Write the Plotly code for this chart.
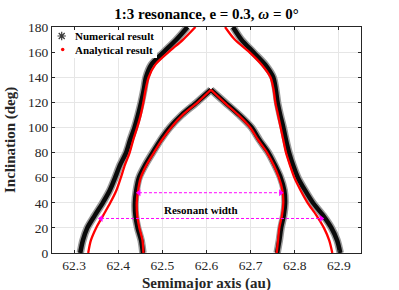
import plotly.graph_objects as go

# Inclination grid (deg)
inc_outer = [0, 10, 20, 30, 40, 50, 60, 70, 80, 90, 100, 110, 120, 130, 140, 150, 160, 170, 180]
inc_inner = [0, 10, 20, 30, 40, 50, 60, 70, 80, 90, 100, 110, 120, 130]

# Numerical result (semimajor axis, au)
num_left_outer = [62.314, 62.320, 62.330, 62.347, 62.365, 62.381, 62.393, 62.404, 62.418, 62.427,
                  62.437, 62.445, 62.452, 62.458, 62.463, 62.475, 62.503, 62.532, 62.557]
num_left_inner = [62.456, 62.452, 62.444, 62.439, 62.438, 62.441, 62.447, 62.461, 62.478, 62.496,
                  62.517, 62.544, 62.578, 62.610]
num_right_inner = [62.760, 62.765, 62.769, 62.775, 62.778, 62.776, 62.768, 62.755, 62.740, 62.720,
                   62.702, 62.674, 62.642, 62.610]
num_right_outer = [62.903, 62.896, 62.883, 62.864, 62.841, 62.823, 62.807, 62.796, 62.787, 62.780,
                   62.774, 62.767, 62.761, 62.757, 62.751, 62.733, 62.706, 62.679, 62.660]

# Analytical result
ana_left_outer = [62.332, 62.338, 62.350, 62.366, 62.382, 62.396, 62.406, 62.415, 62.426, 62.434,
                  62.443, 62.451, 62.457, 62.462, 62.469, 62.484, 62.514, 62.547, 62.575]
ana_left_inner = [62.457, 62.455, 62.448, 62.443, 62.442, 62.445, 62.451, 62.464, 62.481, 62.499,
                  62.520, 62.546, 62.580, 62.610]
ana_right_inner = [62.759, 62.762, 62.765, 62.771, 62.774, 62.772, 62.764, 62.752, 62.737, 62.717,
                   62.699, 62.672, 62.640, 62.610]
ana_right_outer = [62.885, 62.878, 62.866, 62.849, 62.829, 62.813, 62.799, 62.789, 62.780, 62.774,
                   62.768, 62.762, 62.756, 62.752, 62.745, 62.725, 62.697, 62.664, 62.642]

# Resonant width arrows: [a_left, a_right] at inclination
arrow1_a = [62.447, 62.768]
arrow1_i = [48, 48]
arrow2_a = [62.361, 62.860]
arrow2_i = [27.5, 27.5]
label_text = "Resonant width"
label_pos = (62.587, 34)

x_ticks = [62.3, 62.4, 62.5, 62.6, 62.7, 62.8, 62.9]
y_ticks = [0, 20, 40, 60, 80, 100, 120, 140, 160, 180]

legend_names = ["Numerical result", "Analytical result"]

SERIF = "Liberation Serif, Times New Roman, serif"

# plot area geometry (px)
W, H = 399, 290
L, R, T, B = 52, 38, 27, 37
PW, PH = W - L - R, H - T - B


def px_x(px):
    return (px - L) / PW


def px_y(py):
    return (H - B - py) / PH


fig = go.Figure()

num_curves = [
    (num_left_outer, inc_outer),
    (num_left_inner, inc_inner),
    (num_right_inner, inc_inner),
    (num_right_outer, inc_outer),
]
ana_curves = [
    (ana_left_outer, inc_outer),
    (ana_left_inner, inc_inner),
    (ana_right_inner, inc_inner),
    (ana_right_outer, inc_outer),
]

# numerical: gray halo + black core
for a, i in num_curves:
    fig.add_trace(go.Scatter(x=a, y=i, mode="lines",
                             line=dict(color="#9a9a9a", width=7.5, shape="spline", smoothing=0.8),
                             showlegend=False, hoverinfo="skip"))
for a, i in num_curves:
    fig.add_trace(go.Scatter(x=a, y=i, mode="lines",
                             line=dict(color="#0a0a0a", width=4.5, shape="spline", smoothing=0.8),
                             showlegend=False, hoverinfo="skip"))
for a, i in ana_curves:
    fig.add_trace(go.Scatter(x=a, y=i, mode="lines",
                             line=dict(color="#ff0000", width=2.3, shape="spline", smoothing=0.8),
                             showlegend=False, hoverinfo="skip"))

# arrows
for xa, ya in [(arrow1_a, arrow1_i), (arrow2_a, arrow2_i)]:
    fig.add_trace(go.Scatter(x=xa, y=ya, mode="lines+markers",
                             line=dict(color="#ff00ff", width=1, dash="3px,2px"),
                             marker=dict(symbol=["triangle-left", "triangle-right"], size=6, color="#ff00ff"),
                             showlegend=False, hoverinfo="skip"))

# manual legend on an overlay axis spanning the plot area in [0,1]
box_x = [0.0, px_x(157), px_x(157), 0.0, 0.0]
box_y = [1.0, 1.0, px_y(58), px_y(58), 1.0]
fig.add_trace(go.Scatter(x=box_x, y=box_y, xaxis="x2", yaxis="y2", mode="lines", fill="toself",
                         fillcolor="white", line=dict(width=0, color="white"),
                         showlegend=False, hoverinfo="skip"))
leg_sym_x = [px_x(61.7), px_x(62.7)]
leg_y = [px_y(36), px_y(49.5)]
fig.add_trace(go.Scatter(x=[leg_sym_x[0]], y=[leg_y[0]], xaxis="x2", yaxis="y2", mode="markers",
                         marker=dict(symbol="asterisk-open", size=7, color="#3a3a3a",
                                     line=dict(width=1.2, color="#3a3a3a")),
                         showlegend=False, hoverinfo="skip"))
fig.add_trace(go.Scatter(x=[leg_sym_x[1]], y=[leg_y[1]], xaxis="x2", yaxis="y2", mode="markers",
                         marker=dict(symbol="circle", size=3.5, color="#ff0000"),
                         showlegend=False, hoverinfo="skip"))
for name, yy in zip(legend_names, leg_y):
    fig.add_annotation(xref="paper", yref="paper", x=px_x(73), y=yy, text="<b>" + name + "</b>",
                       showarrow=False, xanchor="left", yanchor="middle",
                       font=dict(family=SERIF, size=11, color="#000000"))

fig.add_annotation(x=label_pos[0], y=label_pos[1], text="<b>" + label_text + "</b>", showarrow=False,
                   font=dict(family=SERIF, size=11, color="#000000"), xanchor="center", yanchor="middle")

# axis titles
fig.add_annotation(xref="paper", yref="paper", x=0.5, y=px_y(283), text="<b>Semimajor axis (au)</b>",
                   showarrow=False, xanchor="center", yanchor="middle",
                   font=dict(family=SERIF, size=15, color="#262626"))
fig.add_annotation(xref="paper", yref="paper", x=px_x(10), y=0.5, text="<b>Inclination (deg)</b>",
                   showarrow=False, xanchor="center", yanchor="middle", textangle=-90,
                   font=dict(family=SERIF, size=15, color="#262626"))

axis_common = dict(
    showgrid=True, gridcolor="#e6e6e6", gridwidth=1,
    showline=True, linecolor="#262626", linewidth=1, mirror="ticks",
    ticks="inside", ticklen=3, tickcolor="#262626",
    tickfont=dict(family=SERIF, size=13.5, color="#262626"),
    zeroline=False, automargin=False,
)

fig.update_layout(
    width=W, height=H,
    margin=dict(l=L, r=R, t=T, b=B, autoexpand=False),
    paper_bgcolor="white", plot_bgcolor="white",
    title=dict(text="<b>1:3 resonance, e = 0.3, <i>ω</i> = 0°</b>", xref="paper", x=0.5, xanchor="center",
               y=1 - 14 / H, yanchor="middle", yref="container",
               font=dict(family=SERIF, size=15, color="#000000")),
    xaxis=dict(range=[62.25, 62.95], tickvals=x_ticks, ticktext=[f"{v:.1f}" for v in x_ticks],
               **axis_common),
    yaxis=dict(range=[0, 180], tickvals=y_ticks, **axis_common),
    xaxis2=dict(overlaying="x", range=[0, 1], visible=False, fixedrange=True),
    yaxis2=dict(overlaying="y", range=[0, 1], visible=False, fixedrange=True),
    showlegend=False,
    hovermode=False,
)

fig.write_html(
    "out.html",
    config={"displayModeBar": False, "staticPlot": True},
    post_script="document.body.style.margin='0px';document.body.style.padding='0px';"
                "document.body.style.overflow='hidden';",
)
